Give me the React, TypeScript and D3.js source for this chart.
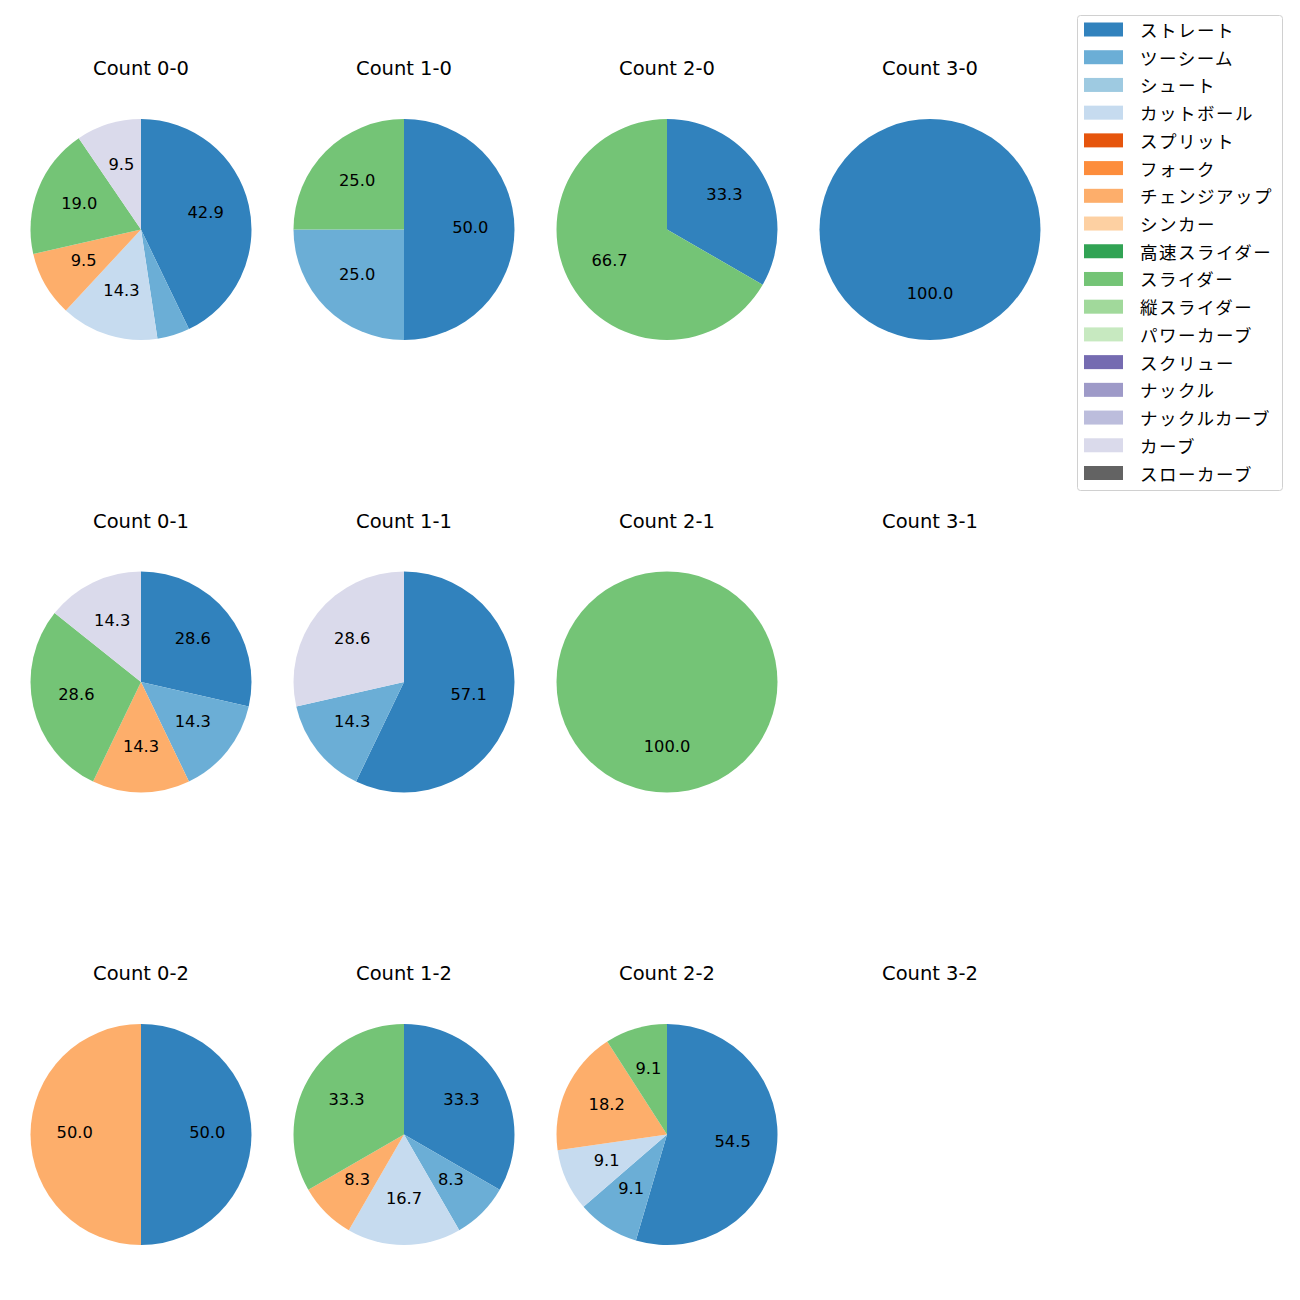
import React from "react";
import * as d3 from "d3";

const pitchTypes = ["ストレート","ツーシーム","シュート","カットボール","スプリット","フォーク","チェンジアップ","シンカー","高速スライダー","スライダー","縦スライダー","パワーカーブ","スクリュー","ナックル","ナックルカーブ","カーブ","スローカーブ"];
const pitchColors = ["#3182bd","#6baed6","#9ecae1","#c6dbef","#e6550d","#fd8d3c","#fdae6b","#fdd0a2","#31a354","#74c476","#a1d99b","#c7e9c0","#756bb1","#9e9ac8","#bcbddc","#dadaeb","#636363"];

const countTitles = ["Count 0-0","Count 1-0","Count 2-0","Count 3-0","Count 0-1","Count 1-1","Count 2-1","Count 3-1","Count 0-2","Count 1-2","Count 2-2","Count 3-2"];

// pitch counts per type (index matches pitchTypes) for each count panel
const count00 = [9,1,0,3,0,0,2,0,0,4,0,0,0,0,0,2,0];
const count10 = [2,1,0,0,0,0,0,0,0,1,0,0,0,0,0,0,0];
const count20 = [1,0,0,0,0,0,0,0,0,2,0,0,0,0,0,0,0];
const count30 = [1,0,0,0,0,0,0,0,0,0,0,0,0,0,0,0,0];
const count01 = [2,1,0,0,0,0,1,0,0,2,0,0,0,0,0,1,0];
const count11 = [4,1,0,0,0,0,0,0,0,0,0,0,0,0,0,2,0];
const count21 = [0,0,0,0,0,0,0,0,0,1,0,0,0,0,0,0,0];
const count31 = [0,0,0,0,0,0,0,0,0,0,0,0,0,0,0,0,0];
const count02 = [1,0,0,0,0,0,1,0,0,0,0,0,0,0,0,0,0];
const count12 = [4,1,0,2,0,0,1,0,0,4,0,0,0,0,0,0,0];
const count22 = [6,1,0,1,0,0,2,0,0,1,0,0,0,0,0,0,0];
const count32 = [0,0,0,0,0,0,0,0,0,0,0,0,0,0,0,0,0];

const panels = [count00,count10,count20,count30,count01,count11,count21,count31,count02,count12,count22,count32];

const LATIN = "'DejaVu Sans', 'Noto Sans CJK JP', sans-serif";
const CJK = "'Noto Sans CJK JP', 'DejaVu Sans', sans-serif";

export default function App() {
  const colX = d3.scaleLinear().domain([0, 3]).range([141, 930]);
  const rowY = d3.scaleLinear().domain([0, 2]).range([229.5, 1134.5]);
  const R = 110.5;
  const pie = d3.pie<number>().sort(null).value(d => d).startAngle(0).endAngle(2 * Math.PI);
  const arc = d3.arc<d3.PieArcDatum<number>>().innerRadius(0).outerRadius(R);

  const legendY = d3.scaleLinear().domain([0, 16]).range([29.5, 473]);

  return (
    <svg width={1300} height={1300} style={{ display: "block", position: "absolute", left: 0, top: 0 }}>
      <rect width={1300} height={1300} fill="#fff" />
      {panels.map((vals, i) => {
        const col = i % 4, row = Math.floor(i / 4);
        const cx = colX(col), cy = rowY(row);
        const total = d3.sum(vals);
        const arcs = total > 0 ? pie(vals) : [];
        return (
          <g key={i}>
            <text x={cx} y={cy - 161} textAnchor="middle" dominantBaseline="central" fontSize={19.5} fontFamily={LATIN} fill="#000">{countTitles[i]}</text>
            <g transform={`translate(${cx},${cy})`}>
              {arcs.filter(a => a.value > 0).map((a, j) => (
                <path key={j} d={arc(a) || ""} fill={pitchColors[a.index]} />
              ))}
              {arcs.filter(a => a.value > 0).map((a, j) => {
                const pct = (a.value / total) * 100;
                if (pct < 5) return null;
                const mid = (a.startAngle + a.endAngle) / 2;
                const r = R * 0.6;
                return (
                  <text key={"t" + j} x={r * Math.sin(mid)} y={-r * Math.cos(mid) - 2} textAnchor="middle" dominantBaseline="central" fontSize={16.3} fontFamily={LATIN} fill="#000">{pct.toFixed(1)}</text>
                );
              })}
            </g>
          </g>
        );
      })}
      <rect x={1077.5} y={15.5} width={205} height={475} rx={3} fill="#fff" stroke="#d0d0d0" />
      {pitchTypes.map((p, i) => (
        <g key={p}>
          <rect x={1084} y={legendY(i) - 7} width={39} height={14} fill={pitchColors[i]} />
          <text x={1140} y={legendY(i)} dominantBaseline="central" fontSize={17.5} letterSpacing={1.5} fontFamily={CJK} fill="#000">{p}</text>
        </g>
      ))}
    </svg>
  );
}
